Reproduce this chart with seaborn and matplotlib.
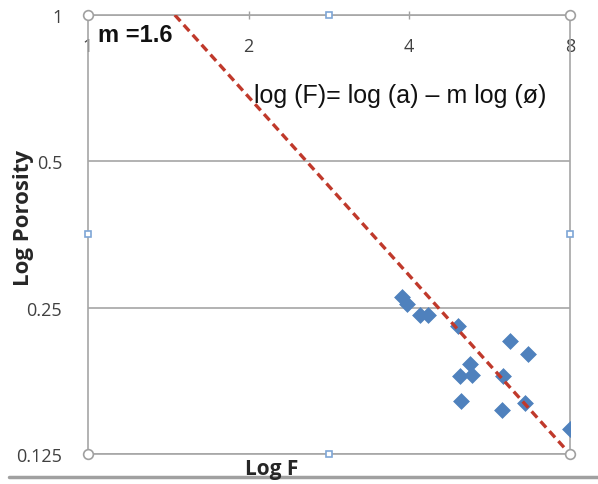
import seaborn as sns
import matplotlib.pyplot as plt
import matplotlib.ticker as mticker
import pandas as pd

# data
log_f = [3.87, 3.96, 4.19, 4.33, 4.93, 6.17, 6.67, 5.19, 4.98, 5.24, 5.99, 5.00, 5.96, 6.59, 8.0]
porosity = [0.263, 0.254, 0.241, 0.241, 0.229, 0.213, 0.201, 0.191, 0.181, 0.182, 0.181, 0.161, 0.154, 0.159, 0.141]

# fitted line (m = 1.6)
fit_f = [1.455, 8.0]
fit_phi = [1.0, 0.125]

x_ticks = [1, 2, 4, 8]
y_ticks = [0.125, 0.25, 0.5, 1]

df = pd.DataFrame({"F": log_f, "phi": porosity})

sns.set_style("white")
plt.rcParams["font.family"] = ["Liberation Sans", "DejaVu Sans"]

fig = plt.figure(figsize=(5.98, 4.85), dpi=100)
ax = fig.add_axes([0.147, 0.062, 0.806, 0.905])

sns.scatterplot(data=df, x="F", y="phi", marker="D", s=65, color="#4F81BD",
                edgecolor="#4F81BD", linewidth=0.5, ax=ax, zorder=3)
sns.lineplot(x=fit_f, y=fit_phi, color="#C0392B", linestyle=(0, (2.5, 1.5)),
             linewidth=2.4, ax=ax, zorder=4)

ax.set_xscale("log", base=2)
ax.set_yscale("log", base=2)
ax.set_xlim(1, 8)
ax.set_ylim(0.125, 1)
ax.set_xticks(x_ticks)
ax.set_yticks(y_ticks)
ax.xaxis.set_major_formatter(mticker.FuncFormatter(lambda v, p: f"{v:g}"))
ax.yaxis.set_major_formatter(mticker.FuncFormatter(lambda v, p: f"{v:g}"))
ax.xaxis.set_minor_locator(mticker.NullLocator())
ax.yaxis.set_minor_locator(mticker.NullLocator())

tick_font = ["Open Sans", "DejaVu Sans"]
ax.tick_params(axis="x", top=True, bottom=False, labeltop=True, labelbottom=False,
               direction="inout", length=6, width=1, color="#A0A0A0",
               pad=-32, labelsize=13, labelcolor="#404040")
ax.tick_params(axis="y", left=False, labelsize=13, labelcolor="#404040", pad=15)
for lab in ax.get_xticklabels() + ax.get_yticklabels():
    lab.set_family(tick_font)

ax.grid(axis="y", color="#A6A6A6", linewidth=1.2)
for s in ax.spines.values():
    s.set_color("#A6A6A6")
    s.set_linewidth(1.2)

ax.set_xlabel("")
ax.set_ylabel("")
fig.text(0.04, 0.55, "Log Porosity", rotation=90, ha="center", va="center",
         fontsize=16, fontweight="bold", family=["Open Sans", "DejaVu Sans"])
fig.text(0.455, 0.032, "Log F", ha="center", va="center",
         fontsize=15, fontweight="bold", family=["Open Sans", "DejaVu Sans"])

ax.text(0.02, 0.955, "m =1.6", transform=ax.transAxes, fontsize=17,
        fontweight="bold", color="#111111", va="center")
ax.text(0.345, 0.818, "log (F)= log (a) – m log (ø)", transform=ax.transAxes,
        fontsize=18, color="#111111", va="center")

# chart selection handles
for hx, hy, mk in [(0, 0, "o"), (0, 1, "o"), (1, 0, "o"), (1, 1, "o"),
                   (0.5, 0, "s"), (0.5, 1, "s"), (0, 0.5, "s"), (1, 0.5, "s")]:
    ax.plot(hx, hy, marker=mk, ms=7 if mk == "o" else 5, mfc="white",
            mec="#A0A0A0" if mk == "o" else "#7EA6D6", mew=1.2,
            transform=ax.transAxes, clip_on=False, zorder=5)

fig.add_artist(plt.Line2D([0.015, 1.0], [0.0144, 0.0144], color="#A0A0A0",
                          linewidth=2.5, transform=fig.transFigure))

fig.savefig("out.png", dpi=100)
